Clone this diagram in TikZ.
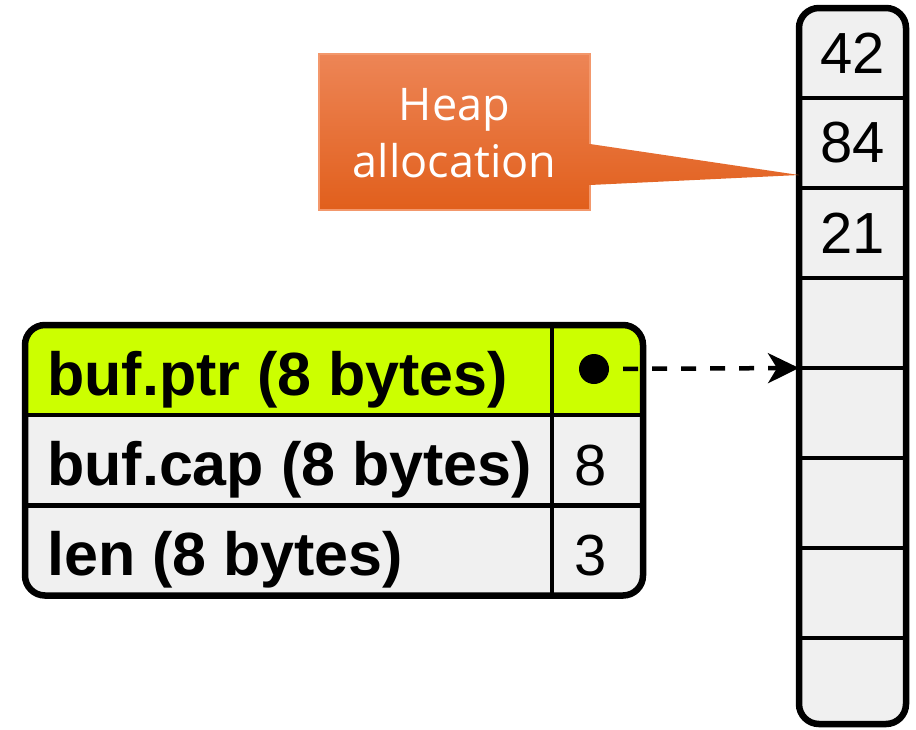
\documentclass[tikz,border=0pt]{standalone}
\usepackage{fontspec}
\setmainfont{Liberation Sans}
\newfontfamily\calloutfont{Open Sans}
\usetikzlibrary{arrows.meta}

\definecolor{cellgrey}{RGB}{240,240,240}
\definecolor{ptrlime}{RGB}{204,255,0}
\definecolor{calltop}{RGB}{237,133,86}
\definecolor{callbot}{RGB}{225,95,28}
\definecolor{callrim}{RGB}{243,152,108}

\begin{document}
\begin{tikzpicture}[x=1pt,y=-1pt,
  cell/.style={draw, line width=4.5pt, fill=cellgrey, inner sep=0pt, outer sep=0pt,
    minimum height=90pt, font=\fontsize{58}{64}\selectfont},
  heapcell/.style={cell, minimum width=107pt},
  keytext/.style={inner sep=0pt, anchor=base west, font=\fontsize{61}{66}\selectfont\bfseries},
  numtext/.style={inner sep=0pt, anchor=base, font=\fontsize{58}{64}\selectfont},
  outline/.style={draw, line width=6.5pt, rounded corners=20pt},
  ptrarrow/.style={line width=4.5pt, dash pattern=on 15pt off 14pt,
    -{Stealth[length=31pt, width=30pt, inset=9pt]}},
]
\useasboundingbox (0,0) rectangle (916,729);

% ---- heap column ----
\begin{scope}
  \clip[rounded corners=20pt] (799,8) rectangle (906,724);
  \node[heapcell] (h1) at (852.5,53)  {42};
  \node[heapcell] (h2) at (852.5,143) {84};
  \node[heapcell] (h3) at (852.5,233) {21};
  \node[heapcell] (h4) at (852.5,323) {};
  \node[heapcell] (h5) at (852.5,413) {};
  \node[heapcell] (h6) at (852.5,503) {};
  \node[heapcell] (h7) at (852.5,593) {};
  \node[heapcell, minimum height=86pt] (h8) at (852.5,681) {};
\end{scope}
\draw[outline] (h1.north west) rectangle (h8.south east);

% ---- stack struct (ptr / cap / len) ----
\begin{scope}
  \clip[rounded corners=20pt] (25,325) rectangle (643,596);
  \node[cell, fill=ptrlime, minimum width=527pt] (ptrkey) at (288.5,370) {};
  \node[cell, fill=ptrlime, minimum width=91pt]  (ptrval) at (597.5,370) {};
  \node[cell, minimum width=527pt] (capkey) at (288.5,460) {};
  \node[cell, minimum width=91pt]  (capval) at (597.5,460) {};
  \node[cell, minimum width=527pt] (lenkey) at (288.5,550.5) {};
  \node[cell, minimum width=91pt]  (lenval) at (597.5,550.5) {};
\end{scope}
\draw[outline] (ptrkey.north west) rectangle (lenval.south east);

\node[keytext] (ptrlabel) at (47,395) {buf.ptr (8 bytes)};
\node[keytext] (caplabel) at (47,485) {buf.cap (8 bytes)};
\node[keytext] (lenlabel) at (47,575) {len (8 bytes)};
\node[numtext] (capnum) at (591,485) {8};
\node[numtext] (lennum) at (591,575) {3};

% pointer from buf.ptr into the heap buffer
\node[circle, fill=black, minimum size=30pt, inner sep=0pt] (ptrdot) at (594,369) {};
\draw[ptrarrow, shorten <=14pt] (ptrdot) -- (h4.south west);

% ---- "Heap allocation" callout ----
\coordinate (alloctip) at ([yshift=13pt]h2.south west);
\shade[top color=calltop, bottom color=callbot]
  (319,54) -- (590,54) -- (590,144) -- (alloctip) -- (590,185)
  -- (590,210) -- (319,210) -- cycle;
\draw[callrim, line width=1.5pt]
  (590,144) -- (590,54) -- (319,54) -- (319,210) -- (590,210) -- (590,185);
\node[inner sep=0pt, text=white, align=center, anchor=base,
  font=\calloutfont\fontsize{45}{57}\selectfont] (callout) at (454.5,177)
  {Heap\\allocation};
\end{tikzpicture}
\end{document}
